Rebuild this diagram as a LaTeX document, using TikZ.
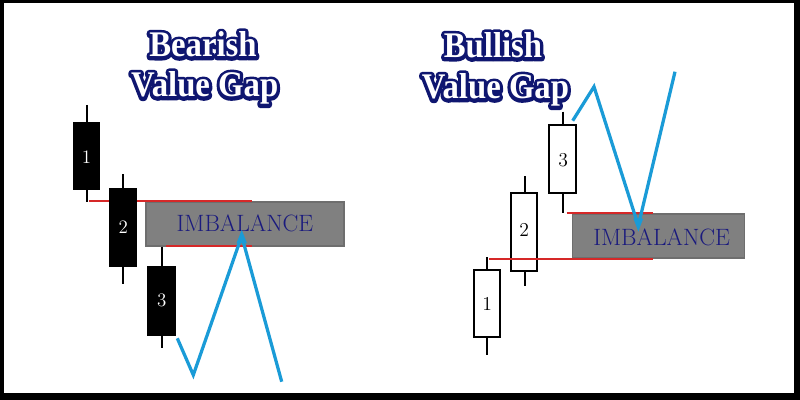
\documentclass[tikz,border=0pt]{standalone}
\usepackage{fontspec}
\newfontfamily\titlefont{Liberation Serif}
\usetikzlibrary{calc}
\definecolor{navy}{HTML}{0F1670}
\definecolor{imbtext}{HTML}{1A1A7E}
\definecolor{boxgray}{HTML}{808080}
\definecolor{boxedge}{HTML}{6E6E6E}
\definecolor{gapred}{HTML}{D62828}
\definecolor{trendblue}{HTML}{1A9BD7}
\newcommand\strokeon{\special{pdf:literal direct 2 Tr 4.5 w 1 j 0.059 0.086 0.44 RG}}
\newcommand\strokeoff{\special{pdf:literal direct 0 Tr}}
\newcommand\outlinetext[3]{%
  \node[titletext,text=navy] (#2-o) at (#1) {\strokeon#3\strokeoff};
  \node[titletext,text=white] (#2) at (#1) {#3};
}
\begin{document}
\begin{tikzpicture}[x=0.025cm,y=-0.025cm,
  wick/.style={draw=black,line width=1.5pt},
  bearbody/.style={fill=black},
  bullbody/.style={draw=black,fill=white,line width=1.5pt},
  gap/.style={draw=gapred,line width=1.3pt},
  imbbox/.style={fill=boxgray,draw=boxedge,line width=0.8pt},
  imblabel/.style={text=imbtext,font=\fontsize{16.8}{18}\selectfont,inner sep=0pt},
  trend/.style={draw=trendblue,line width=2.3pt,line join=miter},
  tip/.style={fill=trendblue},
  numw/.style={text=white,font=\fontsize{13.5}{15}\selectfont,inner sep=0pt},
  numb/.style={text=black,font=\fontsize{14}{15}\selectfont,inner sep=0pt},
  titletext/.style={font=\titlefont\bfseries\fontsize{23.3}{26}\selectfont,anchor=base,inner sep=0pt,yscale=1.1}]
\fill[black] (0,0) rectangle (800,400);
\fill[white] (4,3) rectangle (794,393);
\useasboundingbox (0,0) rectangle (800,400);

% ---------- Bearish ----------
\coordinate (tl1) at (203,57);
\coordinate (tl2) at (204.7,97);
\outlinetext{tl1}{bearT1}{Bearish}
\outlinetext{tl2}{bearT2}{Value Gap}

\draw[imbbox] (146,202) rectangle (344,246);
\node[imblabel] (imbL) at (245,223) {IMBALANCE};
\coordinate (rL1a) at (89,200.7);  \coordinate (rL1b) at (251.7,200.7);
\coordinate (rL2a) at (166,246);   \coordinate (rL2b) at (251.7,246);
\draw[gap] (rL1a) -- (rL1b);
\draw[gap] (rL2a) -- (rL2b);

\draw[wick] (86.7,105) -- (86.7,201.7);
\fill[bearbody] (72.5,122) rectangle (99.5,190);
\node[numw] (bear1) at (86.5,157) {1};
\draw[wick] (123.3,174) -- (123.3,284);
\fill[bearbody] (109.3,187.7) rectangle (137.3,267.3);
\node[numw] (bear2) at (123.3,227.5) {2};
\draw[wick] (161.7,246.7) -- (161.7,348);
\fill[bearbody] (147.3,266) rectangle (176,335.7);
\node[numw] (bear3) at (161.7,300.5) {3};

\coordinate (bt1) at (177.3,338.3);
\coordinate (bt2) at (193.3,375);
\coordinate (bt3) at (241.7,236);
\coordinate (bt4) at (281.7,381.7);
\draw[trend] (bt1) -- (bt2) -- (bt3) -- (bt4);
\fill[tip] (241.7,230) -- (236.5,243) -- (246.9,243) -- cycle;

% ---------- Bullish ----------
\coordinate (tr1) at (493,58);
\coordinate (tr2) at (495.5,99);
\outlinetext{tr1}{bullT1}{Bullish}
\outlinetext{tr2}{bullT2}{Value Gap}

\draw[imbbox] (572.7,214) rectangle (744.7,258);
\node[imblabel] (imbR) at (661.7,237) {IMBALANCE};

\draw[wick] (487.3,257.3) -- (487.3,355);
\draw[bullbody] (474,270) rectangle (500,336.7);
\node[numb] (bull1) at (487.3,304) {1};
\draw[wick] (524.7,176) -- (524.7,286);
\draw[bullbody] (510.7,192.7) rectangle (537.3,270.7);
\node[numb] (bull2) at (524.3,230) {2};
\draw[wick] (563.3,111.7) -- (563.3,213.3);
\draw[bullbody] (549,125) rectangle (575.7,193.3);
\node[numb] (bull3) at (563.3,160) {3};

\coordinate (rR1a) at (566.7,212.7); \coordinate (rR1b) at (652.7,212.7);
\coordinate (rR2a) at (489.3,258.7); \coordinate (rR2b) at (652.7,258.7);
\draw[gap] (rR1a) -- (rR1b);
\draw[gap] (rR2a) -- (rR2b);

\coordinate (ut1) at (572.7,120.7);
\coordinate (ut2) at (594,86.7);
\coordinate (ut3) at (638.3,225.7);
\coordinate (ut4) at (675,71.7);
\draw[trend] (ut1) -- (ut2) -- (ut3) -- (ut4);
\fill[tip] (638.3,231) -- (633.3,218.5) -- (643.3,218.5) -- cycle;
\end{tikzpicture}
\end{document}
